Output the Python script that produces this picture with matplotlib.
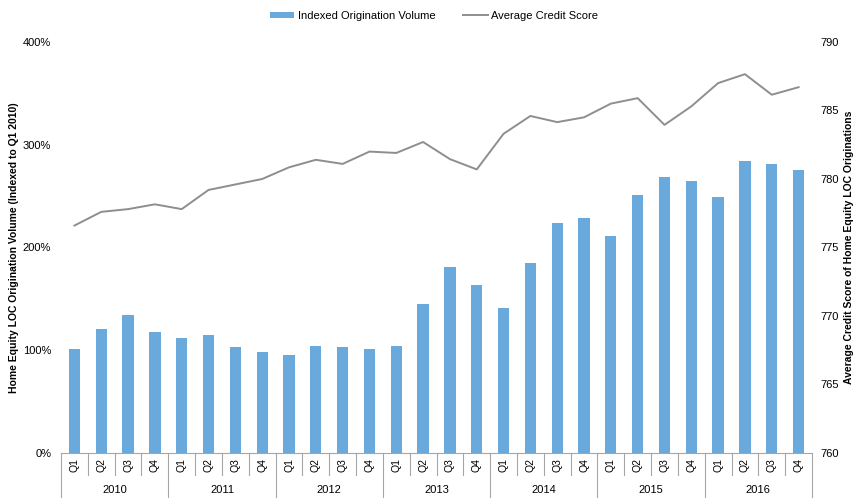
import numpy as np
import matplotlib
matplotlib.use("Agg")
import matplotlib.pyplot as plt
import matplotlib.transforms as mtransforms

years = ["2010", "2011", "2012", "2013", "2014", "2015", "2016"]
quarters = ["Q1", "Q2", "Q3", "Q4"]

# indexed origination volume, % of Q1 2010
volume = [101, 121, 134, 118,
          112, 114.5, 103, 98,
          95, 104, 103, 101.5,
          104, 145, 181, 163.5,
          141, 185, 224, 229,
          211, 251, 268.5, 264.5,
          249, 284, 281.5, 275.5]

# average credit score
score = [776.6, 777.6, 777.8, 778.15,
         777.8, 779.2, 779.6, 780.0,
         780.85, 781.4, 781.1, 782.0,
         781.9, 782.7, 781.45, 780.7,
         783.3, 784.6, 784.15, 784.5,
         785.5, 785.9, 783.95, 785.3,
         787.0, 787.65, 786.15, 786.7]

BAR_COLOR = "#69A9DB"
LINE_COLOR = "#8E8E8E"
SEP_COLOR = "#A6A6A6"

plt.rcParams["font.family"] = ["Liberation Sans", "DejaVu Sans"]

fig = plt.figure(figsize=(8.56, 4.98), dpi=100)
ax = fig.add_axes([0.0713, 0.0904, 0.8773, 0.8253])
ax2 = ax.twinx()

x = np.arange(len(volume))
ax.bar(x, volume, width=0.42, color=BAR_COLOR, label="Indexed Origination Volume", zorder=2)
ax2.plot(x, score, color=LINE_COLOR, lw=1.4, label="Average Credit Score")

ax.set_xlim(-0.5, len(volume) - 0.5)
ax.set_ylim(0, 400)
ax.set_yticks([0, 100, 200, 300, 400])
ax.set_yticklabels(["0%", "100%", "200%", "300%", "400%"])
ax2.set_ylim(760, 790)
ax2.set_yticks([760, 765, 770, 775, 780, 785, 790])

for a in (ax, ax2):
    for s in ("top", "left", "right"):
        a.spines[s].set_visible(False)
    a.tick_params(axis="y", length=0, labelsize=8)
ax.spines["bottom"].set_color(SEP_COLOR)
ax2.spines["bottom"].set_visible(False)
ax.set_xticks([])
ax.tick_params(axis="y", pad=7)
ax2.tick_params(axis="y", pad=6)

# axis titles placed where the reference has them
fig.text(0.0164, 0.503, "Home Equity LOC Origination Volume (Indexed to Q1 2010)",
         rotation=90, ha="center", va="center", fontsize=7.5, fontweight="bold")
fig.text(0.9915, 0.503, "Average Credit Score of Home Equity LOC Originations",
         rotation=90, ha="center", va="center", fontsize=7.5, fontweight="bold")

# two-level category axis
trans = mtransforms.blended_transform_factory(ax.transData, ax.transAxes)
for i in range(len(volume)):
    ax.text(i, -0.029, quarters[i % 4], rotation=90, ha="center", va="center",
            fontsize=7.5, transform=trans)
for i in range(len(volume) + 1):
    pos = i - 0.5
    bottom = -0.107 if i % 4 == 0 else -0.0535
    ax.plot([pos, pos], [0, bottom], color=SEP_COLOR, lw=0.8,
            transform=trans, clip_on=False)
for j, yr in enumerate(years):
    ax.text(j * 4 + 1.5, -0.089, yr, ha="center", va="center",
            fontsize=8, transform=trans)

h1, l1 = ax.get_legend_handles_labels()
h2, l2 = ax2.get_legend_handles_labels()
fig.legend(h1 + h2, l1 + l2, loc="center", bbox_to_anchor=(0.507, 0.968),
           ncol=2, frameon=False, fontsize=8, handlelength=2.2,
           handleheight=0.5, columnspacing=2.5, handletextpad=0.3)

fig.savefig("out.png", dpi=100)
